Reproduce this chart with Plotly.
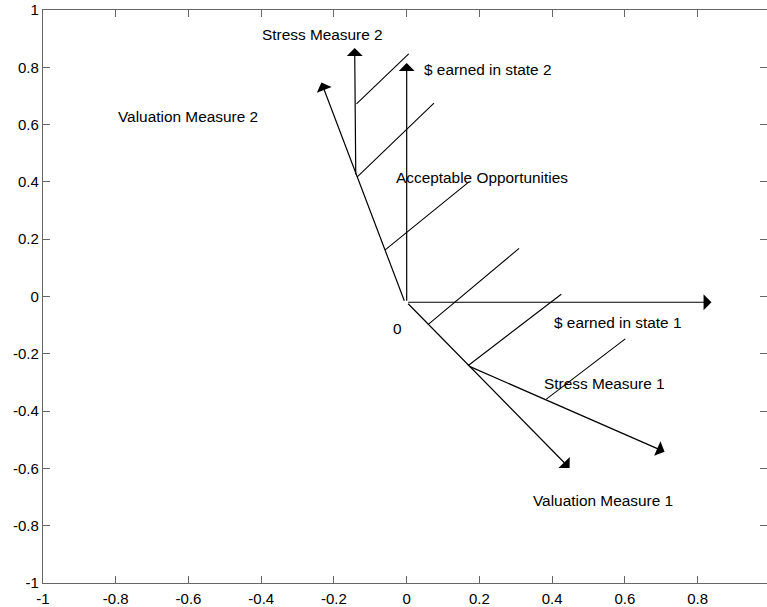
import plotly.graph_objects as go

# ---- data (values in axis units) ----
# arrows: name, tail (x0, y0), tip (x1, y1)
arrow_names = ["$ earned in state 1", "$ earned in state 2", "Valuation Measure 2",
               "Stress Measure 2", "Valuation Measure 1", "Stress Measure 1"]
arrow_x0 = [0.0, 0.0, -0.005, -0.140, 0.0, 0.1685]
arrow_y0 = [-0.02, -0.02, -0.02, 0.421, -0.02, -0.2415]
arrow_x1 = [0.838, 0.0, -0.2345, -0.143, 0.448, 0.709]
arrow_y1 = [-0.02, 0.815, 0.747, 0.867, -0.599, -0.542]

# hatch lines (acceptable region)
hatch_x0 = [-0.138, -0.1366, -0.060, 0.0586, 0.1685, 0.384]
hatch_y0 = [0.672, 0.417, 0.162, -0.098, -0.2415, -0.358]
hatch_x1 = [0.0055, 0.075, 0.172, 0.309, 0.425, 0.601]
hatch_y1 = [0.847, 0.675, 0.401, 0.168, 0.008, -0.148]

# text labels
label_text = ["Stress Measure 2", "$ earned in state 2", "Valuation Measure 2",
              "Acceptable Opportunities", "0", "$ earned in state 1",
              "Stress Measure 1", "Valuation Measure 1"]
label_x = [-0.232, 0.223, -0.602, 0.207, -0.024, 0.581, 0.545, 0.539]
label_y = [0.914, 0.792, 0.629, 0.414, -0.112, -0.092, -0.304, -0.711]

x_ticks = [-1, -0.8, -0.6, -0.4, -0.2, 0, 0.2, 0.4, 0.6, 0.8]
x_tick_text = ["-1", "-0.8", "-0.6", "-0.4", "-0.2", "0", "0.2", "0.4", "0.6", "0.8"]
y_ticks = [-1, -0.8, -0.6, -0.4, -0.2, 0, 0.2, 0.4, 0.6, 0.8, 1]
y_tick_text = ["-1", "-0.8", "-0.6", "-0.4", "-0.2", "0", "0.2", "0.4", "0.6", "0.8", "1"]

FONT = "Liberation Sans, Arial, sans-serif"
AXIS_COLOR = "#666666"

fig = go.Figure()

# hatch lines
hx, hy = [], []
for a, b, c, d in zip(hatch_x0, hatch_y0, hatch_x1, hatch_y1):
    hx += [a, c, None]
    hy += [b, d, None]
fig.add_trace(go.Scatter(x=hx, y=hy, mode="lines",
                         line=dict(color="black", width=1.1),
                         hoverinfo="skip", showlegend=False))

# dummy trace for right-side ticks
fig.add_trace(go.Scatter(x=[None], y=[None], yaxis="y2", showlegend=False))

annotations = []
for x0, y0, x1, y1 in zip(arrow_x0, arrow_y0, arrow_x1, arrow_y1):
    annotations.append(dict(x=x1, y=y1, ax=x0, ay=y0, xref="x", yref="y",
                            axref="x", ayref="y", text="", showarrow=True,
                            arrowhead=1, arrowsize=2.2, arrowwidth=1.2,
                            arrowcolor="black", standoff=0, startstandoff=0))
for t, x, y in zip(label_text, label_x, label_y):
    annotations.append(dict(x=x, y=y, xref="x", yref="y", text=t,
                            showarrow=False, xanchor="center", yanchor="middle",
                            font=dict(family=FONT, size=15.4, color="black")))

fig.update_layout(
    width=767, height=607,
    margin=dict(l=43, r=0, t=10, b=24, autoexpand=False),
    paper_bgcolor="white", plot_bgcolor="white",
    showlegend=False,
    font=dict(family=FONT, size=15, color="black"),
    annotations=annotations,
    xaxis=dict(range=[-1, 0.9907], tickvals=x_ticks, ticktext=x_tick_text,
               ticks="inside", ticklen=7, tickcolor=AXIS_COLOR, tickwidth=1,
               showline=True, linecolor=AXIS_COLOR, linewidth=1.2, mirror="ticks",
               showgrid=False, zeroline=False, fixedrange=True, automargin=False,
               ticklabelstandoff=2,
               tickfont=dict(family=FONT, size=15, color="black")),
    yaxis=dict(range=[-1, 1], tickvals=y_ticks, ticktext=y_tick_text,
               ticks="inside", ticklen=7, tickcolor=AXIS_COLOR, tickwidth=1,
               showline=True, linecolor=AXIS_COLOR, linewidth=1.2,
               showgrid=False, zeroline=False, fixedrange=True, automargin=False,
               tickfont=dict(family=FONT, size=15, color="black")),
    yaxis2=dict(range=[-1, 1], overlaying="y", side="right", matches="y",
                tickvals=y_ticks, ticks="inside", ticklen=7,
                tickcolor=AXIS_COLOR, tickwidth=1, showticklabels=False,
                showline=False, showgrid=False, zeroline=False, automargin=False),
)

# remove the browser's default 8px body margin so the figure fills the window
fig.write_html("out.html", config={"displayModeBar": False},
               post_script="document.body.style.margin='0';document.body.style.overflow='hidden';")
